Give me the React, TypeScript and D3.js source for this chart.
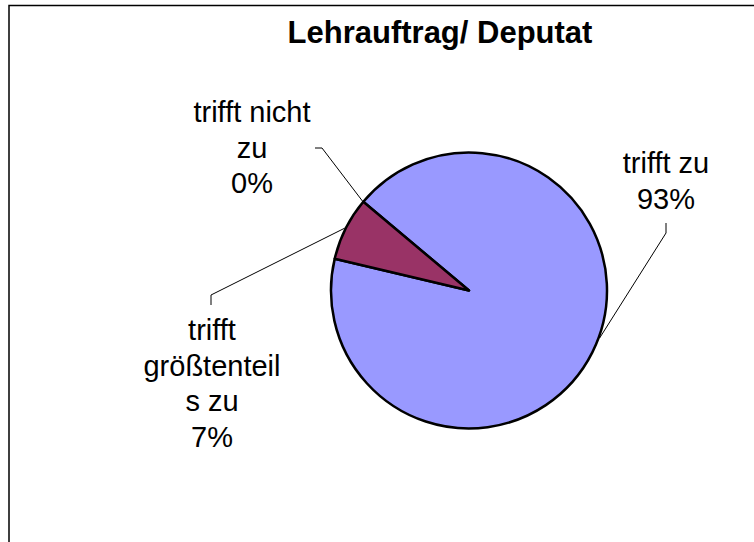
import React, { useEffect, useRef } from 'react';
import * as d3 from 'd3';

// Chart data
const categories = ['trifft zu', 'trifft größtenteils zu', 'trifft nicht zu'];
const counts = [25, 2, 0];
const colors = ['#9999FF', '#993366', '#FFFFCC'];
const title = 'Lehrauftrag/ Deputat';

// label text lines (Excel wraps them) and where they sit
const labelLines = [
  ['trifft zu'],
  ['trifft', 'größtenteil', 's zu'],
  ['trifft nicht', 'zu'],
];
const labelLayout = [
  { x: 666, y: 173, elbow: [666, 233], end: [666, 223] },
  { x: 212, y: 340, elbow: [211, 295], end: [211, 305] },
  { x: 252, y: 122, elbow: [322, 148], end: [315, 148] },
];

const W = 754;
const H = 542;

const App: React.FC = () => {
  const svgRef = useRef<SVGSVGElement>(null);

  useEffect(() => {
    if (!svgRef.current) return;
    const svg = d3.select(svgRef.current);
    svg.selectAll('*').remove();

    // chart frame, runs off the right and bottom
    svg.append('rect')
      .attr('x', 9).attr('y', 5.5)
      .attr('width', 900).attr('height', 700)
      .attr('fill', 'white')
      .attr('stroke', '#000')
      .attr('stroke-width', 1.5);

    svg.append('text')
      .attr('x', 440).attr('y', 43)
      .attr('text-anchor', 'middle')
      .style('font-family', 'Arial, "Liberation Sans", sans-serif')
      .style('font-size', '31px')
      .style('font-weight', 'bold')
      .text(title);

    const cx = 469;
    const cy = 290.5;
    const r = 138;
    const start = (310 * Math.PI) / 180;

    const pie = d3.pie<number>()
      .sort(null)
      .startAngle(start)
      .endAngle(start + 2 * Math.PI);
    const arcs = pie(counts);
    const total = d3.sum(counts);

    const arc = d3.arc<d3.PieArcDatum<number>>().innerRadius(0).outerRadius(r);

    const g = svg.append('g').attr('transform', `translate(${cx},${cy})`);
    g.selectAll('path')
      .data(arcs.filter(a => a.value > 0))
      .enter()
      .append('path')
      .attr('d', arc)
      .attr('fill', d => colors[d.index])
      .attr('stroke', '#000')
      .attr('stroke-width', 2.5)
      .attr('stroke-linejoin', 'round');

    // leader lines + labels
    arcs.forEach((a, i) => {
      // 'trifft zu' leader attaches a bit above the slice middle, like Excel does
      const mid = i === 0 ? a.startAngle + (a.endAngle - a.startAngle) * 0.48 : (a.startAngle + a.endAngle) / 2;
      const px = cx + Math.sin(mid) * (r + 1);
      const py = cy - Math.cos(mid) * (r + 1);
      const L = labelLayout[i];
      svg.append('polyline')
        .attr('points', `${px},${py} ${L.elbow[0]},${L.elbow[1]} ${L.end[0]},${L.end[1]}`)
        .attr('fill', 'none')
        .attr('stroke', '#000')
        .attr('stroke-width', 1);

      const pct = d3.format('.0%')(a.value / total);
      const lines = [...labelLines[i], pct];
      const t = svg.append('text')
        .attr('text-anchor', 'middle')
        .style('font-family', 'Arial, "Liberation Sans", sans-serif')
        .style('font-size', '29px');
      lines.forEach((ln, j) => {
        t.append('tspan')
          .attr('x', L.x)
          .attr('y', L.y + j * 35.5)
          .text(ln);
      });
    });
  }, []);

  return (
    <svg
      ref={svgRef}
      width={W}
      height={H}
      style={{ position: 'absolute', left: 0, top: 0, background: 'white' }}
    />
  );
};

export default App;
